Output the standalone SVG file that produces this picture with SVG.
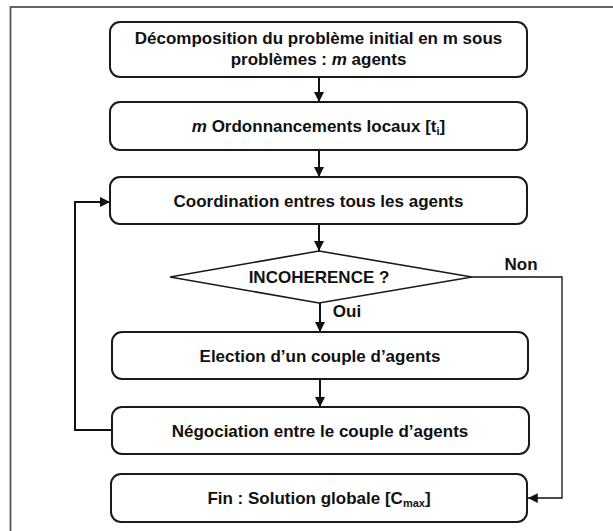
<svg xmlns="http://www.w3.org/2000/svg" width="613" height="531" viewBox="0 0 613 531">
  <style>
    .box { fill: #ffffff; stroke: #1a1a1a; stroke-width: 2; }
    .dia { fill: #ffffff; stroke: #1a1a1a; stroke-width: 1.6; }
    .lbl { font-family: "Liberation Sans", Arial, sans-serif; font-weight: bold; font-size: 17px; fill: #111111; text-anchor: middle; }
    .sub { font-size: 11px; }
    .edge { fill: none; stroke: #111111; stroke-width: 2; }
    .thin { fill: none; stroke: #111111; stroke-width: 1.3; }
  </style>
  <defs>
    <marker id="arrow" viewBox="0 0 10 10" refX="10" refY="5" markerWidth="5" markerHeight="5" orient="auto" markerUnits="strokeWidth">
      <path d="M0,0 L10,5 L0,10 z" fill="#111111"/>
    </marker>
    <marker id="arrowThin" viewBox="0 0 10 10" refX="10" refY="5" markerWidth="7.5" markerHeight="7.5" orient="auto" markerUnits="strokeWidth">
      <path d="M0,0 L10,5 L0,10 z" fill="#111111"/>
    </marker>
  </defs>

  <rect width="613" height="531" fill="#ffffff"/>
  <!-- outer frame (right and bottom edges run past the canvas) -->
  <rect x="10.5" y="7" width="620" height="540" fill="none" stroke="#555555" stroke-width="1.8"/>

  <g id="connectors">
    <line class="edge" x1="319" y1="77" x2="319" y2="102" marker-end="url(#arrow)"/>
    <line class="edge" x1="319" y1="150" x2="319" y2="177" marker-end="url(#arrow)"/>
    <line class="edge" x1="319" y1="224" x2="319" y2="251" marker-end="url(#arrow)"/>
    <line class="edge" x1="320" y1="303" x2="320" y2="332" marker-end="url(#arrow)"/>
    <line class="edge" x1="320" y1="379" x2="320" y2="407" marker-end="url(#arrow)"/>
    <polyline class="edge" points="112,430 75,430 75,202 110,202" marker-end="url(#arrow)"/>
    <polyline class="thin" points="472,277 562,277 562,498 528,498" marker-end="url(#arrowThin)"/>
    <text class="lbl" x="521" y="270">Non</text>
    <text class="lbl" x="347" y="317">Oui</text>
  </g>

  <g id="decomposition">
    <rect class="box" x="110" y="22" width="417" height="55" rx="10"/>
    <text class="lbl" x="318.5" y="43.5">Décomposition du problème initial en m sous</text>
    <text class="lbl" x="318.5" y="65">problèmes : <tspan font-style="italic">m</tspan> agents</text>
  </g>

  <g id="ordonnancements">
    <rect class="box" x="110" y="102" width="417" height="48" rx="10"/>
    <text class="lbl" x="318.5" y="132"><tspan font-style="italic">m</tspan> Ordonnancements locaux [t<tspan class="sub" dy="3">i</tspan><tspan dy="-3">]</tspan></text>
  </g>

  <g id="coordination">
    <rect class="box" x="110" y="177" width="417" height="47" rx="10"/>
    <text class="lbl" x="318.5" y="206.5">Coordination entres tous les agents</text>
  </g>

  <g id="incoherence">
    <polygon class="dia" points="319,251 472,277 319,303 170,277"/>
    <text class="lbl" x="319" y="283">INCOHERENCE ?</text>
  </g>

  <g id="election">
    <rect class="box" x="112" y="332" width="416" height="47" rx="10"/>
    <text class="lbl" x="320" y="361.5">Election d’un couple d’agents</text>
  </g>

  <g id="negociation">
    <rect class="box" x="112" y="407" width="417" height="47" rx="10"/>
    <text class="lbl" x="320" y="436.5">Négociation entre le couple d’agents</text>
  </g>

  <g id="fin">
    <rect class="box" x="111" y="474" width="416" height="48" rx="10"/>
    <text class="lbl" x="319" y="504">Fin : Solution globale [C<tspan class="sub" dy="3">max</tspan><tspan dy="-3">]</tspan></text>
  </g>
</svg>
